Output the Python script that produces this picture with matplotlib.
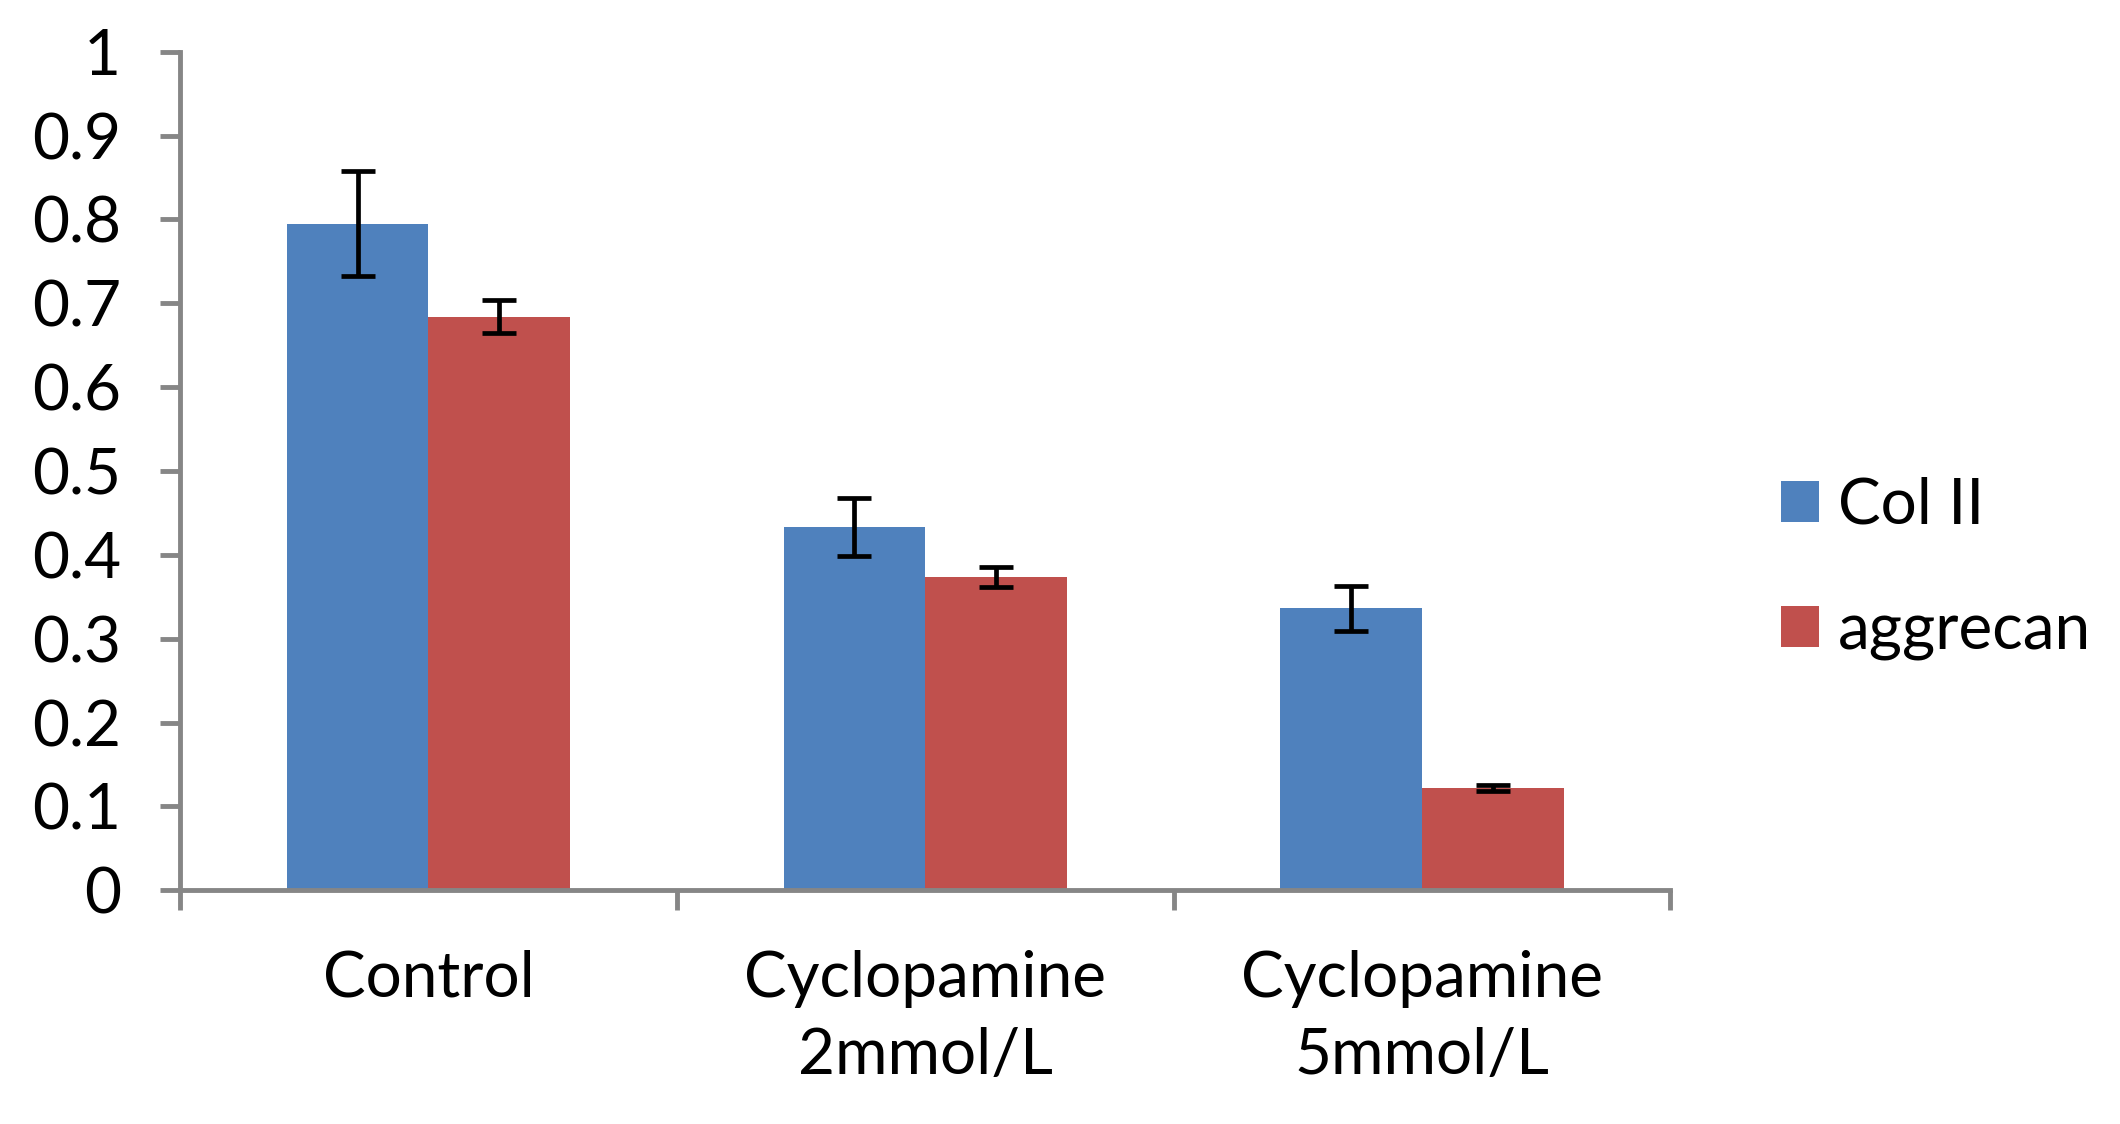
import matplotlib.pyplot as plt
from matplotlib.patches import Patch
import numpy as np

plt.rcParams['font.family'] = ['Lato', 'DejaVu Sans']

categories = ['Control', 'Cyclopamine\n2mmol/L', 'Cyclopamine\n5mmol/L']
series_names = ['Col II', 'aggrecan']
col2 = [0.795, 0.433, 0.336]
col2_err = [0.063, 0.035, 0.027]
aggrecan = [0.684, 0.374, 0.122]
aggrecan_err = [0.020, 0.012, 0.004]
yticks = [0, 0.1, 0.2, 0.3, 0.4, 0.5, 0.6, 0.7, 0.8, 0.9, 1]
ytick_labels = ['0', '0.1', '0.2', '0.3', '0.4', '0.5', '0.6', '0.7', '0.8', '0.9', '1']

blue = '#4F81BD'
red = '#C0504D'
grey = '#868686'
fs = 46

fig = plt.figure(figsize=(21.2, 11.24), dpi=100)
ax = fig.add_axes([0.0849, 0.208, 0.703, 0.746])

x = np.arange(len(categories))
w = 0.285
err_kw = dict(ecolor='black', elinewidth=3.4, capsize=12.5, capthick=3.4)
ax.bar(x - w / 2, col2, w, color=blue, yerr=col2_err, error_kw=err_kw)
ax.bar(x + w / 2, aggrecan, w, color=red, yerr=aggrecan_err, error_kw=err_kw)

ax.set_xlim(-0.5, len(categories) - 0.5)
ax.set_ylim(0, 1)
ax.set_yticks(yticks)
ax.set_yticklabels(ytick_labels)

# tick marks on category boundaries, labels at group centres
ax.set_xticks(np.arange(len(categories) + 1) - 0.5)
ax.set_xticklabels([])
ax.set_xticks(x, minor=True)
ax.set_xticklabels(categories, minor=True, linespacing=1.4)
ax.tick_params(axis='x', which='minor', length=0, pad=43, labelsize=fs)
ax.tick_params(axis='x', which='major', length=14.4, width=3.5, color=grey, direction='out')
ax.tick_params(axis='y', length=14.4, width=3.5, color=grey, direction='out', pad=28, labelsize=fs)

for s in ['top', 'right']:
    ax.spines[s].set_visible(False)
for s in ['left', 'bottom']:
    ax.spines[s].set_color(grey)
    ax.spines[s].set_linewidth(3.5)

handles = [Patch(facecolor=blue), Patch(facecolor=red)]
fig.legend(handles, series_names, loc='center left', bbox_to_anchor=(0.84, 0.494),
           frameon=False, fontsize=fs, handlelength=0.6, handleheight=0.6,
           handletextpad=0.3, labelspacing=1.05, borderpad=0, borderaxespad=0)

fig.savefig('out.png', dpi=100)
